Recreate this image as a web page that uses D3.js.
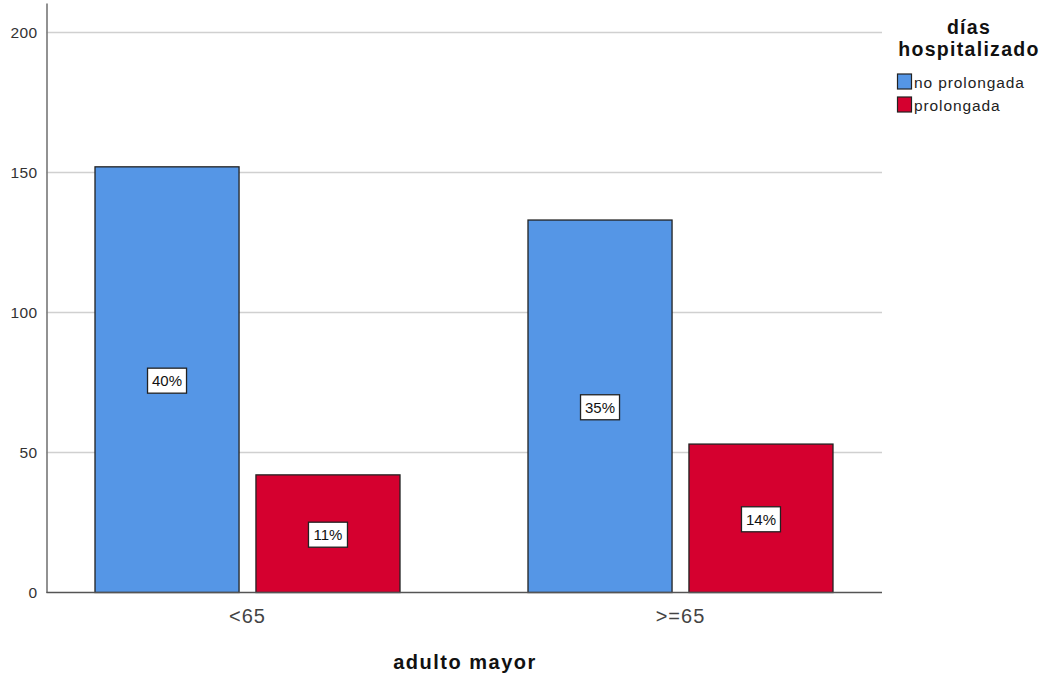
<!DOCTYPE html>
<html><head><meta charset="utf-8">
<script src="https://cdn.jsdelivr.net/npm/d3@7"></script>
<style>body{margin:0;background:#fff;}svg{display:block;font-family:"Liberation Sans",Arial,sans-serif;}</style>
</head><body>
<svg id="c" width="1048" height="675"></svg>
<script>
const categories = ["<65", ">=65"];
const series = ["no prolongada", "prolongada"];
const noProlongada = [152, 133];
const prolongada = [42, 53];
const percentLabels = [["40%", "11%"], ["35%", "14%"]];
const yTicks = [0, 50, 100, 150, 200];
const colors = ["#5596e6", "#d5002f"];

const svg = d3.select("#c");
const y = d3.scaleLinear().domain([0, 210.5]).range([592.5, 3]);
const xOuter = d3.scalePoint().domain(categories).range([247.5, 680.5]);
const xInner = d3.scaleBand().domain(series).range([-152.5, 152.5]).paddingInner(0.105);
const left = 46.5, right = 882;

// gridlines
svg.append("g").selectAll("line").data(yTicks.filter(d => d > 0)).join("line")
  .attr("x1", left).attr("x2", right)
  .attr("y1", d => Math.round(y(d)) + 0.5).attr("y2", d => Math.round(y(d)) + 0.5)
  .attr("stroke", "#d0d0d0").attr("stroke-width", 1.6);

// y axis
const yAxis = svg.append("g").attr("transform", `translate(${left},0)`)
  .call(d3.axisLeft(y).tickValues(yTicks).tickSize(0).tickPadding(9));
yAxis.select(".domain").attr("stroke", "#777").attr("stroke-width", 1.6);
yAxis.selectAll("text").attr("font-size", 15.5).attr("fill", "#333")
  .attr("letter-spacing", 0.4).attr("font-family", "Liberation Sans, Arial, sans-serif");

// data
const rows = [];
categories.forEach((c, i) => {
  rows.push({cat: c, ser: series[0], v: noProlongada[i], lab: percentLabels[i][0], col: colors[0]});
  rows.push({cat: c, ser: series[1], v: prolongada[i], lab: percentLabels[i][1], col: colors[1]});
});

svg.append("g").selectAll("rect").data(rows).join("rect")
  .attr("x", d => xOuter(d.cat) + xInner(d.ser))
  .attr("width", xInner.bandwidth())
  .attr("y", d => y(d.v))
  .attr("height", d => y(0) - y(d.v))
  .attr("fill", d => d.col)
  .attr("stroke", "#222").attr("stroke-width", 1.3);

// x axis
const xAxisG = svg.append("g");
xAxisG.append("line").attr("x1", left).attr("x2", right).attr("y1", y(0)).attr("y2", y(0))
  .attr("stroke", "#555").attr("stroke-width", 1.6);
xAxisG.selectAll("text").data(categories).join("text")
  .attr("x", d => xOuter(d)).attr("y", 623)
  .attr("text-anchor", "middle").attr("font-size", 20).attr("letter-spacing", 1)
  .attr("fill", "#444").text(d => d);

// value labels
const lg = svg.append("g").selectAll("g").data(rows).join("g")
  .attr("transform", d => `translate(${xOuter(d.cat) + xInner(d.ser) + xInner.bandwidth() / 2},${(y(d.v) + y(0)) / 2 + 1})`);
lg.append("rect").attr("x", -19.5).attr("y", -12.5).attr("width", 39).attr("height", 25)
  .attr("fill", "#fff").attr("stroke", "#222").attr("stroke-width", 1.3);
lg.append("text").attr("text-anchor", "middle").attr("dy", "0.36em")
  .attr("font-size", 15).attr("fill", "#111").text(d => d.lab);

// axis title
svg.append("text").attr("x", 465).attr("y", 669).attr("text-anchor", "middle")
  .attr("font-size", 20).attr("letter-spacing", 1.5).attr("font-weight", "bold").attr("fill", "#111").text("adulto mayor");

// legend
const leg = svg.append("g");
leg.append("text").attr("x", 969).attr("y", 34).attr("text-anchor", "middle")
  .attr("font-size", 19.5).attr("letter-spacing", 1.3).attr("font-weight", "bold").attr("fill", "#111").text("días");
leg.append("text").attr("x", 969).attr("y", 56).attr("text-anchor", "middle")
  .attr("font-size", 19.5).attr("letter-spacing", 1.3).attr("font-weight", "bold").attr("fill", "#111").text("hospitalizado");
series.forEach((s, i) => {
  const yy = 74 + i * 23;
  leg.append("rect").attr("x", 897.5).attr("y", yy).attr("width", 14).attr("height", 15)
    .attr("fill", colors[i]).attr("stroke", "#222").attr("stroke-width", 1.2);
  leg.append("text").attr("x", 914).attr("y", yy + 14).attr("font-size", 15.5).attr("letter-spacing", 0.9)
    .attr("fill", "#222").text(s);
});
</script>
</body></html>
